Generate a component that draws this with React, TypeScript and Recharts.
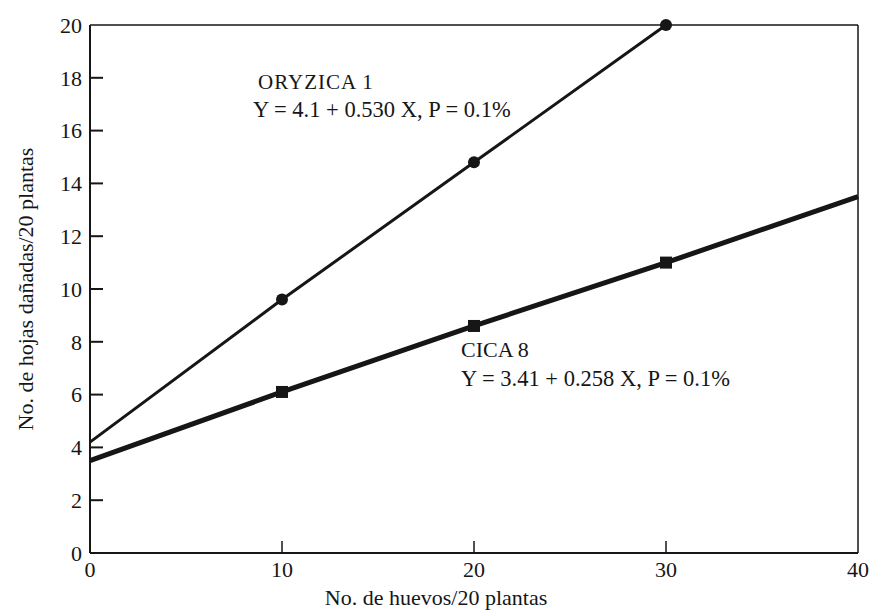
import { LineChart, Line, XAxis, YAxis, ReferenceLine } from 'recharts';

// eggs per 20 plants
const eggs = [0, 10, 20, 30, 40];
// damaged leaves per 20 plants
const oryzica = [4.2, 9.6, 14.8, 20.0, null];
const cica = [3.5, 6.1, 8.6, 11.0, 13.5];
// only the observed points carry a marker
const observed = [10, 20, 30];

const xTicks = [0, 10, 20, 30, 40];
const yTicks = [0, 2, 4, 6, 8, 10, 12, 14, 16, 18, 20];

const INK = '#161616';
const FONT = '"Liberation Serif", "DejaVu Serif", serif';

const rows = eggs.map((x, i) => ({ x, oryzica: oryzica[i], cica: cica[i] }));

function YTick(props: any) {
  const { x, y, payload } = props;
  const v = payload.value as number;
  return (
    <g>
      {v > 0 && v < 20 && <line x1={x} y1={y} x2={x + 13} y2={y} stroke={INK} strokeWidth={2} />}
      <text x={x - 8} y={y} dy="0.35em" textAnchor="end" fontSize={22} fontFamily={FONT} fill={INK}>
        {v}
      </text>
    </g>
  );
}

function XTick(props: any) {
  const { x, y, payload } = props;
  const v = payload.value as number;
  return (
    <g>
      {v > 0 && v < 40 && <line x1={x} y1={y} x2={x} y2={y - 12} stroke={INK} strokeWidth={1.5} />}
      <text x={x} y={y + 16} dy="0.35em" textAnchor="middle" fontSize={22} fontFamily={FONT} fill={INK}>
        {v}
      </text>
    </g>
  );
}

function CircleDot(props: any) {
  const { cx, cy, payload } = props;
  if (!observed.includes(payload.x)) return <g />;
  return <circle cx={cx} cy={cy} r={6} fill={INK} />;
}

function SquareDot(props: any) {
  const { cx, cy, payload } = props;
  if (!observed.includes(payload.x)) return <g />;
  return <rect x={cx - 6} y={cy - 6} width={12} height={12} fill={INK} />;
}

export default function App() {
  return (
    <div style={{ position: 'absolute', left: 0, top: 0, width: 871, height: 612, background: '#fff' }}>
      <LineChart
        width={871}
        height={612}
        data={rows}
        margin={{ top: 25, right: 13, bottom: 0, left: 0 }}
      >
        <XAxis
          dataKey="x"
          type="number"
          domain={[0, 40]}
          ticks={xTicks}
          tickSize={0}
          tickMargin={0}
          tickLine={false}
          axisLine={{ stroke: INK, strokeWidth: 2 }}
          tick={<XTick />}
          height={59}
        />
        <YAxis
          type="number"
          domain={[0, 20]}
          ticks={yTicks}
          tickSize={0}
          tickMargin={0}
          tickLine={false}
          axisLine={{ stroke: INK, strokeWidth: 2 }}
          tick={<YTick />}
          width={90}
        />
        <ReferenceLine y={20} stroke={INK} strokeWidth={1.5} />
        <ReferenceLine x={40} stroke={INK} strokeWidth={1.5} />
        <Line
          dataKey="oryzica"
          stroke={INK}
          strokeWidth={3}
          dot={<CircleDot />}
          activeDot={false}
          isAnimationActive={false}
        />
        <Line
          dataKey="cica"
          stroke={INK}
          strokeWidth={5}
          dot={<SquareDot />}
          activeDot={false}
          isAnimationActive={false}
        />
      </LineChart>
      <svg
        width={871}
        height={612}
        style={{ position: 'absolute', left: 0, top: 0, pointerEvents: 'none' }}
        fontFamily={FONT}
        fill={INK}
      >
        <text x={258} y={89} fontSize={21} letterSpacing={1}>ORYZICA 1</text>
        <text x={253} y={117} fontSize={22.5}>Y = 4.1 + 0.530 X, P = 0.1%</text>
        <text x={461} y={357} fontSize={22}>CICA 8</text>
        <text x={461} y={386} fontSize={22.5}>Y = 3.41 + 0.258 X, P = 0.1%</text>
        <text x={436} y={605} fontSize={22} textAnchor="middle">No. de huevos/20 plantas</text>
        <text x={0} y={0} fontSize={22} textAnchor="middle" transform="translate(33 289) rotate(-90)">
          No. de hojas dañadas/20 plantas
        </text>
      </svg>
    </div>
  );
}
